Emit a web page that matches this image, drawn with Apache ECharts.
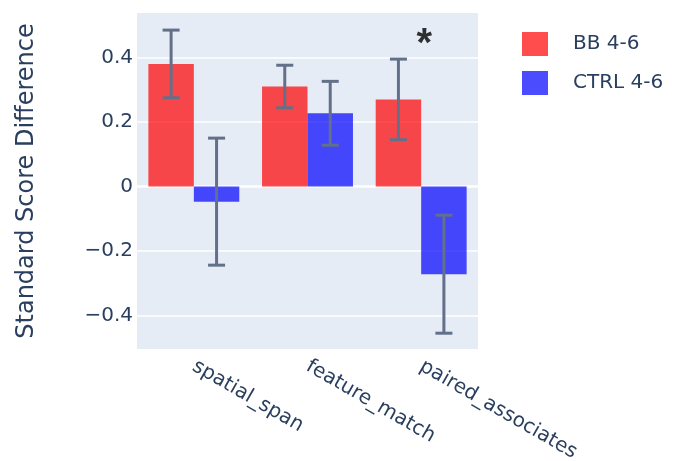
<!DOCTYPE html>
<html>
<head>
<meta charset="utf-8">
<script src="https://cdn.jsdelivr.net/npm/echarts@6/dist/echarts.min.js"></script>
<style>html,body{margin:0;padding:0;background:#fff;}#c{width:674px;height:461px;}</style>
</head>
<body>
<div id="c"></div>
<script>
const categories = ['spatial_span', 'feature_match', 'paired_associates'];
const bbValues = [0.38, 0.31, 0.27];
const bbErrors = [0.105, 0.066, 0.125];
const ctrlValues = [-0.047, 0.227, -0.272];
const ctrlErrors = [0.197, 0.099, 0.183];
const yTicks = [-0.4, -0.2, 0, 0.2, 0.4];
const seriesNames = ['BB 4-6', 'CTRL 4-6'];
const starCategory = 'paired_associates';
const starValue = 0.44;

const FONT = '"DejaVu Sans", verdana, arial, sans-serif';
const chart = echarts.init(document.getElementById('c'));

function errData(vals, errs) {
  return vals.map((v, i) => [i, v - errs[i], v + errs[i]]);
}
function errSeries(vals, errs, seriesIdx) {
  return {
    type: 'custom',
    z: 5,
    silent: true,
    data: errData(vals, errs),
    renderItem: function (params, api) {
      const i = api.value(0);
      const lo = api.coord([i, api.value(1)]);
      const hi = api.coord([i, api.value(2)]);
      const bw = api.size([1, 0])[0];
      const barW = bw * 0.8 / 2;
      const x = lo[0] + (seriesIdx === 0 ? -barW / 2 : barW / 2);
      const cap = 8.5;
      const style = { stroke: '#627089', lineWidth: 3 };
      return {
        type: 'group',
        children: [
          { type: 'line', shape: { x1: x, y1: lo[1], x2: x, y2: hi[1] }, style },
          { type: 'line', shape: { x1: x - cap, y1: lo[1], x2: x + cap, y2: lo[1] }, style },
          { type: 'line', shape: { x1: x - cap, y1: hi[1], x2: x + cap, y2: hi[1] }, style }
        ]
      };
    }
  };
}

chart.setOption({
  backgroundColor: '#ffffff',
  animation: false,
  textStyle: { fontFamily: FONT },
  grid: {
    left: 137, right: 196, top: 13, bottom: 112,
    outerBoundsMode: 'none', containLabel: false,
    show: true, backgroundColor: '#e5ecf6', borderWidth: 0
  },
  legend: {
    data: seriesNames,
    orient: 'vertical',
    left: 517, top: 27,
    itemWidth: 26, itemHeight: 24, itemGap: 15,
    icon: 'rect',
    textStyle: { fontFamily: FONT, fontSize: 20, color: '#2a3f5f', padding: [0, 0, 0, 20] }
  },
  xAxis: {
    type: 'category',
    data: categories,
    axisLine: { show: false },
    axisTick: { show: false },
    splitLine: { show: false },
    axisLabel: { rotate: -30, fontSize: 20, color: '#2a3f5f', fontFamily: FONT, margin: 16, interval: 0 }
  },
  yAxis: {
    type: 'value',
    min: -0.504, max: 0.538,
    name: 'Standard Score Difference',
    nameLocation: 'middle',
    nameRotate: 90,
    nameGap: 98,
    nameTextStyle: { fontSize: 24, color: '#2a3f5f', fontFamily: FONT },
    axisLine: { show: false },
    axisTick: { show: false, customValues: yTicks },
    splitLine: { show: false },
    axisLabel: {
      customValues: yTicks,
      fontSize: 20, color: '#2a3f5f', fontFamily: FONT, margin: 4,
      formatter: v => v === 0 ? '0' : (v < 0 ? '\u2212' + Math.abs(v).toFixed(1) : v.toFixed(1))
    }
  },
  series: [
    {
      name: seriesNames[0], type: 'bar', data: bbValues,
      itemStyle: { color: 'rgba(255,0,0,0.7)' },
      barGap: '0%', barCategoryGap: '20%', z: 3,
      markLine: {
        silent: true, symbol: 'none', z: 1,
        label: { show: false },
        lineStyle: { color: '#ffffff', type: 'solid', width: 1.5 },
        data: yTicks.map(t => ({ yAxis: t, lineStyle: { width: t === 0 ? 2.5 : 1.5 } }))
      }
    },
    {
      name: seriesNames[1], type: 'bar', data: ctrlValues,
      itemStyle: { color: 'rgba(0,0,255,0.7)' },
      barGap: '0%', barCategoryGap: '20%', z: 3
    },
    errSeries(bbValues, bbErrors, 0),
    errSeries(ctrlValues, ctrlErrors, 1),
    {
      type: 'scatter', symbolSize: 0, silent: true, z: 6,
      data: [[starCategory, starValue]],
      label: { show: true, position: 'inside', offset: [3, 0], formatter: '*', fontSize: 40, fontWeight: 'bold', color: '#000', fontFamily: '"Liberation Sans", Arial, sans-serif' }
    }
  ]
});
</script>
</body>
</html>
